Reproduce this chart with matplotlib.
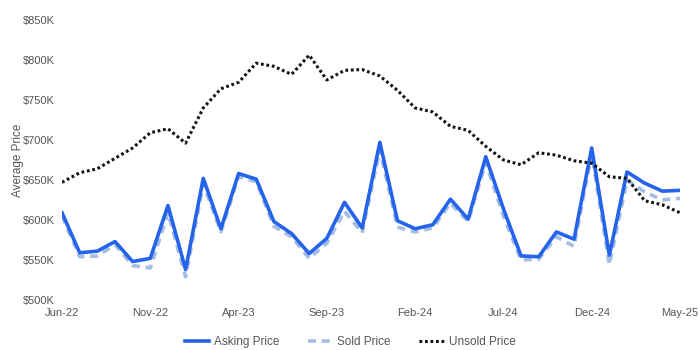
import matplotlib.pyplot as plt
from matplotlib.ticker import FuncFormatter

plt.rcParams['font.family'] = ['Liberation Sans', 'DejaVu Sans']

# Monthly data, Jun-22 .. May-25 (values in $K)
months = ['Jun-22', 'Jul-22', 'Aug-22', 'Sep-22', 'Oct-22', 'Nov-22', 'Dec-22', 'Jan-23',
          'Feb-23', 'Mar-23', 'Apr-23', 'May-23', 'Jun-23', 'Jul-23', 'Aug-23', 'Sep-23',
          'Oct-23', 'Nov-23', 'Dec-23', 'Jan-24', 'Feb-24', 'Mar-24', 'Apr-24', 'May-24',
          'Jun-24', 'Jul-24', 'Aug-24', 'Sep-24', 'Oct-24', 'Nov-24', 'Dec-24', 'Jan-25',
          'Feb-25', 'Mar-25', 'Apr-25', 'May-25']

asking = [609, 559, 561, 573, 548, 552, 618, 538, 652, 589, 658, 651,
          598, 583, 558, 577, 622, 590, 697, 599, 589, 594, 626, 601,
          679, 614, 555, 554, 585, 576, 690, 556, 660, 646, 636, 637]

sold = [605, 554, 555, 569, 543, 540, 609, 529, 645, 585, 654, 648,
        592, 579, 552, 571, 611, 584, 688, 591, 585, 590, 621, 598,
        672, 605, 550, 551, 579, 567, 683, 544, 650, 635, 625, 627]

unsold = [647, 659, 664, 677, 690, 709, 714, 696, 740, 764, 772, 796,
          792, 782, 806, 775, 787, 788, 780, 762, 740, 735, 717, 712,
          692, 675, 669, 684, 681, 674, 671, 654, 652, 624, 619, 609]

x = list(range(len(months)))

fig = plt.figure(figsize=(7, 3.5), dpi=100)
ax = fig.add_axes([0.0886, 0.143, 0.8828, 0.8])

ax.plot(x, sold, color='#a3bde3', lw=2.6, linestyle=(0, (2.2, 1.6)), label='Sold Price', zorder=2)
ax.plot(x, asking, color='#2563eb', lw=2.6, label='Asking Price', zorder=3)
ax.plot(x, unsold, color='#111111', lw=2.2, linestyle=(0, (0.9, 0.9)), label='Unsold Price', zorder=4)

ax.set_xlim(0, len(months) - 1)
ax.set_ylim(500, 850)
ax.set_yticks(range(500, 851, 50))
ax.yaxis.set_major_formatter(FuncFormatter(lambda v, p: '${:.0f}K'.format(v)))
ax.set_xticks(x[::5])
ax.set_xticklabels(months[::5])

for s in ax.spines.values():
    s.set_visible(False)
ax.tick_params(length=0, labelsize=8, colors='#555555')
ax.tick_params(axis='x', pad=6)
ax.tick_params(axis='y', pad=5)
ax.set_ylabel('Average Price', fontsize=8.5, color='#555555', labelpad=-1)

h, l = ax.get_legend_handles_labels()
order = [1, 0, 2]
fig.legend([h[i] for i in order], [l[i] for i in order], loc='lower center',
           bbox_to_anchor=(0.5, -0.025), ncol=3, frameon=False, fontsize=8.5,
           labelcolor='#555555', handlelength=2.1, columnspacing=2.4, handletextpad=0.4)

fig.savefig('out.png', dpi=100)
